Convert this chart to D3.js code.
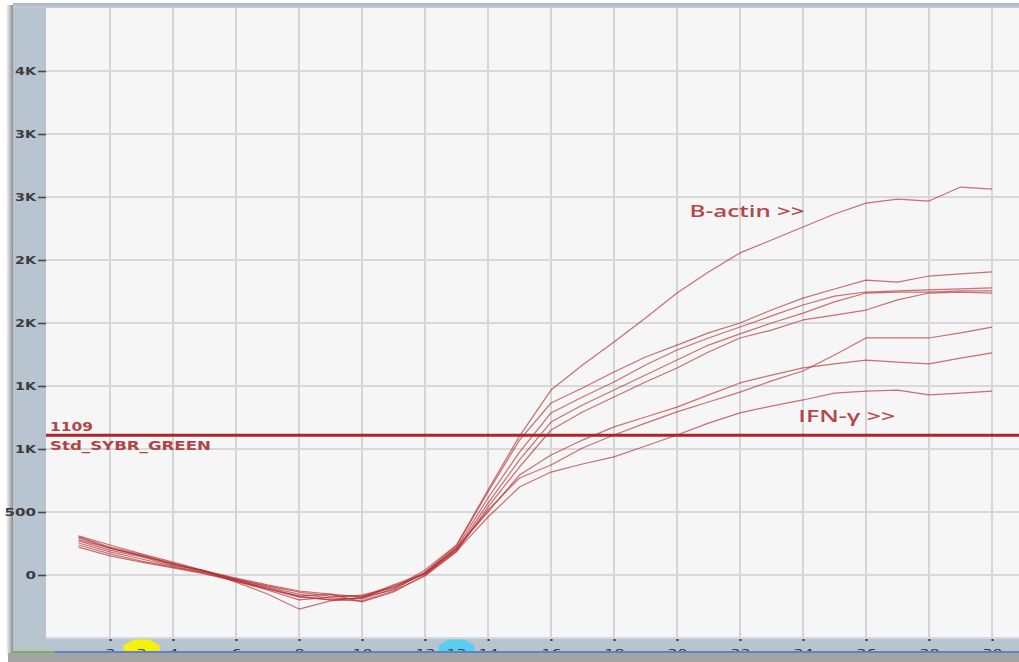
<!DOCTYPE html>
<html>
<head>
<meta charset="utf-8">
<script src="https://cdn.jsdelivr.net/npm/d3@7"></script>
<style>
  html, body { margin: 0; padding: 0; background: #ffffff; overflow: hidden; }
  svg { display: block; }
</style>
</head>
<body>
<svg id="chart" width="1019" height="662"></svg>
<script>
// Amplification cycles
const cycles = [1,2,3,4,5,6,7,8,9,10,11,12,13,14,15,16,17,18,19,20,21,22,23,24,25,26,27,28,29,30];

// Fluorescence per cycle for each well (B-actin wells rise first, IFN-γ wells later)
const well1 = [294,214,151,87,24,-32,-87,-135,-167,-167,-103,40,238,675,1103,1468,1667,1849,2040,2238,2405,2556,2659,2762,2865,2952,2984,2968,3079,3063];
const well2 = [270,198,143,79,32,-24,-79,-127,-151,-175,-119,24,230,659,1071,1365,1484,1611,1730,1825,1921,2000,2103,2198,2270,2341,2325,2373,2389,2405];
const well3 = [302,222,159,87,32,-32,-95,-151,-183,-190,-111,16,214,611,976,1286,1413,1532,1667,1786,1881,1968,2056,2143,2214,2246,2254,2262,2270,2278];
const well4 = [254,183,127,71,16,-48,-119,-198,-175,-159,-95,8,198,571,913,1214,1349,1468,1587,1706,1825,1913,2000,2079,2167,2238,2246,2246,2254,2254];
const well5 = [238,167,111,63,16,-40,-103,-167,-198,-206,-127,-8,183,540,857,1151,1294,1413,1532,1643,1770,1881,1944,2024,2063,2103,2183,2238,2246,2238];
const well6 = [278,214,151,95,32,-40,-111,-175,-198,-183,-87,8,206,516,770,873,1008,1111,1206,1294,1373,1452,1540,1619,1746,1881,1881,1881,1921,1968];
const well7 = [310,238,167,103,32,-56,-151,-270,-206,-175,-79,16,214,500,794,952,1071,1175,1254,1333,1429,1524,1587,1643,1675,1706,1690,1675,1722,1762];
const well8 = [222,151,103,56,8,-48,-111,-167,-151,-214,-135,0,190,460,698,817,881,937,1024,1111,1206,1286,1341,1389,1444,1460,1468,1429,1444,1460];

const wells = [well1, well2, well3, well4, well5, well6, well7, well8];

// Axis ticks and their printed labels
const xTickValues = [2,4,6,8,10,12,14,16,18,20,22,24,26,28,30];
const yTickValues = [0,500,1000,1500,2000,2500,3000,3500,4000];
const yTickLabels = ["0","500","1K","1K","2K","2K","3K","3K","4K"];

// Threshold and Ct flags
const thresholdValue = 1109;
const thresholdName = "Std_SYBR_GREEN";
const ctFlagCycles = [3, 13];
const ctFlagLabels = ["3", "13"];

// Target annotations
const targetLabels = ["B-actin >>", "IFN-\u03b3 >>"];

const W = 1019, H = 662;
const plot = { left: 46, top: 8, right: 1019, bottom: 639 };

const x = d3.scaleLinear().domain([0, 30]).range([47, 992]);
const y = d3.scaleLinear().domain([0, 4000]).range([575, 71]);

const svg = d3.select("#chart");
const defs = svg.append("defs");

const shade = defs.append("linearGradient").attr("id", "edgeShade")
  .attr("x1", 0).attr("x2", 1).attr("y1", 0).attr("y2", 0);
shade.append("stop").attr("offset", 0).attr("stop-color", "#ffffff");
shade.append("stop").attr("offset", 1).attr("stop-color", "#8c8c8c");

const topBand = defs.append("linearGradient").attr("id", "topBand")
  .attr("x1", 0).attr("x2", 0).attr("y1", 0).attr("y2", 1);
topBand.append("stop").attr("offset", 0).attr("stop-color", "#a9b5c1");
topBand.append("stop").attr("offset", 1).attr("stop-color", "#c3cdd7");

defs.append("clipPath").attr("id", "plotClip")
  .append("rect")
  .attr("x", plot.left).attr("y", plot.top)
  .attr("width", plot.right - plot.left).attr("height", plot.bottom - plot.top);

defs.append("clipPath").attr("id", "stripClip")
  .append("rect")
  .attr("x", 13).attr("y", plot.bottom)
  .attr("width", W - 13).attr("height", 651 - plot.bottom);

// Window frame
svg.append("rect").attr("width", W).attr("height", H).attr("fill", "#ffffff");
svg.append("rect").attr("x", 6).attr("y", 5).attr("width", 7).attr("height", 650).attr("fill", "url(#edgeShade)");
svg.append("rect").attr("x", 13).attr("y", 3).attr("width", W - 13).attr("height", 650).attr("fill", "#b8c4d0");
svg.append("rect").attr("x", 13).attr("y", 3).attr("width", W - 13).attr("height", 5).attr("fill", "url(#topBand)");
svg.append("rect").attr("x", 8).attr("y", 653).attr("width", W - 8).attr("height", H - 653).attr("fill", "#a4a4a4");

// Plot background
svg.append("rect")
  .attr("x", plot.left).attr("y", plot.top)
  .attr("width", plot.right - plot.left).attr("height", plot.bottom - plot.top)
  .attr("fill", "#f6f6f6");

const plotG = svg.append("g").attr("clip-path", "url(#plotClip)");

// Grid
plotG.append("g").selectAll("line").data(xTickValues).join("line")
  .attr("x1", d => x(d)).attr("x2", d => x(d))
  .attr("y1", plot.top).attr("y2", plot.bottom)
  .attr("stroke", "#d2d2d2").attr("stroke-width", 1.8);

plotG.append("g").selectAll("line").data(yTickValues.concat([-500])).join("line")
  .attr("x1", plot.left).attr("x2", plot.right)
  .attr("y1", d => y(d)).attr("y2", d => y(d))
  .attr("stroke", "#d8d8d8").attr("stroke-width", 1.8);

// Amplification curves
const line = d3.line()
  .x((d, i) => x(cycles[i]))
  .y(d => y(d));

plotG.append("g").selectAll("path").data(wells).join("path")
  .attr("d", line)
  .attr("fill", "none")
  .attr("stroke", "#b22a2d")
  .attr("stroke-opacity", 0.66)
  .attr("stroke-width", 1.25)
  .attr("stroke-linejoin", "round");

// Threshold line
plotG.append("line")
  .attr("x1", plot.left).attr("x2", plot.right)
  .attr("y1", y(thresholdValue)).attr("y2", y(thresholdValue))
  .attr("stroke", "#a8272a").attr("stroke-width", 3);

plotG.append("text")
  .attr("x", 50).attr("y", y(thresholdValue) - 4)
  .attr("font-family", "DejaVu Sans").attr("font-size", 12).attr("font-weight", 600)
  .attr("fill", "#b04446")
  .attr("textLength", 43).attr("lengthAdjust", "spacingAndGlyphs")
  .text(String(thresholdValue));

plotG.append("text")
  .attr("x", 50).attr("y", y(thresholdValue) + 15)
  .attr("font-family", "DejaVu Sans").attr("font-size", 12).attr("font-weight", 600)
  .attr("fill", "#b04446")
  .attr("textLength", 161).attr("lengthAdjust", "spacingAndGlyphs")
  .text(thresholdName);

// Target annotations
plotG.append("text")
  .attr("x", x(20.4)).attr("y", y(2845))
  .attr("font-family", "Open Sans").attr("font-size", 16).attr("font-weight", 600)
  .attr("fill", "#b5474a")
  .attr("textLength", 115).attr("lengthAdjust", "spacingAndGlyphs")
  .text(targetLabels[0]);

plotG.append("text")
  .attr("x", x(23.85)).attr("y", y(1215))
  .attr("font-family", "Open Sans").attr("font-size", 16).attr("font-weight", 600)
  .attr("fill", "#b5474a")
  .attr("textLength", 97).attr("lengthAdjust", "spacingAndGlyphs")
  .text(targetLabels[1]);

// Y axis
const yAxis = d3.axisLeft(y)
  .tickValues(yTickValues)
  .tickSize(8)
  .tickPadding(2)
  .tickFormat((d, i) => yTickLabels[i]);

const yAxisG = svg.append("g").attr("transform", `translate(${plot.left},0)`).call(yAxis);
yAxisG.select(".domain").remove();
yAxisG.selectAll(".tick line").attr("stroke", "#474747").attr("stroke-width", 1.6);
yAxisG.selectAll(".tick text")
  .attr("font-family", "DejaVu Sans").attr("font-weight", "bold").attr("font-size", 11)
  .attr("fill", "#3c3c3c").attr("dy", "0.36em")
  .attr("textLength", (d, i) => yTickLabels[i].length * 10.5)
  .attr("lengthAdjust", "spacingAndGlyphs");

// Ct flags and X axis strip
const stripG = svg.append("g").attr("clip-path", "url(#stripClip)");

const xAxis = d3.axisBottom(x)
  .tickValues(xTickValues)
  .tickSize(2)
  .tickPadding(8)
  .tickFormat(d3.format("d"));

const xAxisG = stripG.append("g").attr("transform", `translate(0,${plot.bottom})`).call(xAxis);
xAxisG.select(".domain").remove();
xAxisG.selectAll(".tick line").attr("stroke", "#303030").attr("stroke-width", 2);
xAxisG.selectAll(".tick text")
  .attr("font-family", "DejaVu Sans").attr("font-size", 11)
  .attr("fill", "#333333")
  .attr("textLength", d => String(d).length * 10)
  .attr("lengthAdjust", "spacingAndGlyphs");

const flagColors = ["#f4f20a", "#5acdf2"];
const flag = stripG.selectAll("g.flag").data(ctFlagCycles).join("g")
  .attr("class", "flag")
  .attr("transform", d => `translate(${x(d)},0)`);

flag.append("path")
  .attr("d", "M-18,653 L-18,645 L-7,639.5 L7,639.5 L18,645 L18,653 Z")
  .attr("fill", (d, i) => flagColors[i]);

flag.append("text")
  .attr("y", 657).attr("text-anchor", "middle")
  .attr("font-family", "DejaVu Sans").attr("font-size", 11)
  .attr("fill", "#4a4a3a")
  .attr("textLength", (d, i) => ctFlagLabels[i].length * 10)
  .attr("lengthAdjust", "spacingAndGlyphs")
  .text((d, i) => ctFlagLabels[i]);

// Status line under the axis
svg.append("rect").attr("x", 13).attr("y", 651).attr("width", W - 13).attr("height", 2).attr("fill", "#5a85cb");
svg.append("rect").attr("x", 13).attr("y", 651).attr("width", 42).attr("height", 2).attr("fill", "#76b25a");
</script>
</body>
</html>
